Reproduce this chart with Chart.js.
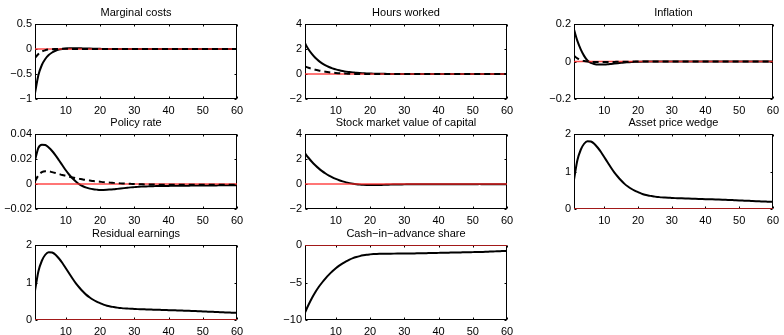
<!DOCTYPE html>
<html>
<head>
<meta charset="utf-8">
<script src="https://cdn.jsdelivr.net/npm/chart.js@4.4.1/dist/chart.umd.min.js"></script>
<style>
  html, body { margin: 0; padding: 0; background: #fff; overflow: hidden; }
  #wrap { position: relative; width: 784px; height: 335px; background: #fff; overflow: hidden; }
  #wrap canvas { position: absolute; }
</style>
</head>
<body>
<div id="wrap"></div>
<script>
// horizon (quarters) and shared x ticks
const horizon = [1, 60];
const xTicks = [10, 20, 30, 40, 50, 60];
const baseline = 0;

// Marginal costs
const mcTicks = [-1, -0.5, 0, 0.5];
const mcSolid = [-0.88, -0.52, -0.32, -0.2, -0.12, -0.07, -0.035, -0.012, 0.002, 0.01,
  0.015, 0.017, 0.017, 0.015, 0.012, 0.01, 0.008, 0.006, 0.004, 0.003,
  0.002, 0.001, 0.001, 0, 0, 0, 0, 0, 0, 0,
  0, 0, 0, 0, 0, 0, 0, 0, 0, 0,
  0, 0, 0, 0, 0, 0, 0, 0, 0, 0,
  0, 0, 0, 0, 0, 0, 0, 0, 0, 0];
const mcDashed = [-0.18, -0.1, -0.05, -0.025, -0.01, -0.003, 0, 0.003, 0.004, 0.004,
  0.003, 0.002, 0.001, 0, 0, 0, 0, 0, 0, 0,
  0, 0, 0, 0, 0, 0, 0, 0, 0, 0,
  0, 0, 0, 0, 0, 0, 0, 0, 0, 0,
  0, 0, 0, 0, 0, 0, 0, 0, 0, 0,
  0, 0, 0, 0, 0, 0, 0, 0, 0, 0];

// Hours worked
const hoursTicks = [-2, 0, 2, 4];
const hoursSolid = [2.45, 1.98, 1.61, 1.3, 1.05, 0.85, 0.69, 0.56, 0.45, 0.37,
  0.3, 0.24, 0.19, 0.16, 0.13, 0.1, 0.08, 0.065, 0.05, 0.04,
  0.03, 0.025, 0.02, 0.015, 0.01, 0.01, 0.005, 0.005, 0, 0,
  0, 0, 0, 0, 0, 0, 0, 0, 0, 0,
  0, 0, 0, 0, 0, 0, 0, 0, 0, 0,
  0, 0, 0, 0, 0, 0, 0, 0, 0, 0];
const hoursDashed = [0.6, 0.5, 0.42, 0.34, 0.28, 0.23, 0.18, 0.14, 0.11, 0.08,
  0.06, 0.04, 0.03, 0.02, 0.01, 0.005, 0, 0, 0, 0,
  0, 0, 0, 0, 0, 0, 0, 0, 0, 0,
  0, 0, 0, 0, 0, 0, 0, 0, 0, 0,
  0, 0, 0, 0, 0, 0, 0, 0, 0, 0,
  0, 0, 0, 0, 0, 0, 0, 0, 0, 0];

// Inflation
const inflTicks = [-0.2, 0, 0.2];
const inflSolid = [0.17, 0.11, 0.065, 0.03, 0.005, -0.007, -0.013, -0.016, -0.016, -0.016,
  -0.015, -0.013, -0.011, -0.009, -0.007, -0.005, -0.004, -0.003, -0.002, -0.001,
  -0.001, 0, 0, 0, 0, 0, 0, 0, 0, 0,
  0, 0, 0, 0, 0, 0, 0, 0, 0, 0,
  0, 0, 0, 0, 0, 0, 0, 0, 0, 0,
  0, 0, 0, 0, 0, 0, 0, 0, 0, 0];
const inflDashed = [0.03, 0.017, 0.008, 0.003, 0, -0.002, -0.003, -0.003, -0.003, -0.003,
  -0.002, -0.002, -0.002, -0.001, -0.001, -0.001, -0.001, 0, 0, 0,
  0, 0, 0, 0, 0, 0, 0, 0, 0, 0,
  0, 0, 0, 0, 0, 0, 0, 0, 0, 0,
  0, 0, 0, 0, 0, 0, 0, 0, 0, 0,
  0, 0, 0, 0, 0, 0, 0, 0, 0, 0];

// Policy rate
const policyTicks = [-0.02, 0, 0.02, 0.04];
const policySolid = [0.019, 0.029, 0.0315, 0.0312, 0.0292, 0.0264, 0.0229, 0.019, 0.015, 0.011,
  0.0074, 0.0044, 0.0018, -0.0003, -0.0018, -0.0029, -0.0037, -0.0042, -0.0045, -0.0047,
  -0.0047, -0.0046, -0.0044, -0.0042, -0.0039, -0.0036, -0.0033, -0.003, -0.0027, -0.0025,
  -0.0023, -0.0021, -0.002, -0.0019, -0.0018, -0.0017, -0.0016, -0.0016, -0.0015, -0.0015,
  -0.0014, -0.0014, -0.0014, -0.0013, -0.0013, -0.0013, -0.0012, -0.0012, -0.0012, -0.0012,
  -0.0011, -0.0011, -0.0011, -0.0011, -0.001, -0.001, -0.001, -0.001, -0.001, -0.001];
const policyDashed = [0.002, 0.007, 0.0095, 0.0102, 0.0101, 0.0095, 0.0088, 0.008, 0.0072, 0.0065,
  0.0058, 0.0052, 0.0046, 0.0041, 0.0036, 0.0032, 0.0028, 0.0024, 0.0021, 0.0018,
  0.0015, 0.0013, 0.0011, 0.0009, 0.0007, 0.0005, 0.0004, 0.0002, 0.0001, 0,
  -0.0001, -0.0002, -0.0003, -0.0004, -0.0004, -0.0005, -0.0005, -0.0005, -0.0006, -0.0006,
  -0.0006, -0.0006, -0.0006, -0.0006, -0.0006, -0.0006, -0.0006, -0.0006, -0.0006, -0.0006,
  -0.0006, -0.0006, -0.0006, -0.0006, -0.0006, -0.0006, -0.0006, -0.0006, -0.0006, -0.0006];

// Stock market value of capital
const stockTicks = [-2, 0, 2, 4];
const stockSolid = [2.45, 2.1, 1.78, 1.5, 1.25, 1.03, 0.84, 0.67, 0.53, 0.41,
  0.3, 0.21, 0.13, 0.07, 0.02, -0.02, -0.05, -0.07, -0.08, -0.085,
  -0.085, -0.08, -0.075, -0.07, -0.06, -0.05, -0.045, -0.04, -0.035, -0.03,
  -0.028, -0.026, -0.024, -0.022, -0.02, -0.019, -0.018, -0.017, -0.016, -0.015,
  -0.014, -0.014, -0.013, -0.013, -0.012, -0.012, -0.012, -0.011, -0.011, -0.011,
  -0.011, -0.01, -0.01, -0.01, -0.01, -0.01, -0.01, -0.01, -0.01, -0.01];

// Asset price wedge
const wedgeTicks = [0, 1, 2];
const wedgeSolid = [0.78, 1.3, 1.58, 1.74, 1.81, 1.8, 1.74, 1.64, 1.52, 1.38,
  1.24, 1.1, 0.97, 0.86, 0.76, 0.67, 0.6, 0.54, 0.49, 0.45,
  0.41, 0.38, 0.36, 0.345, 0.33, 0.32, 0.31, 0.305, 0.3, 0.295,
  0.29, 0.287, 0.284, 0.281, 0.278, 0.275, 0.272, 0.269, 0.266, 0.263,
  0.26, 0.257, 0.254, 0.251, 0.248, 0.245, 0.241, 0.237, 0.233, 0.229,
  0.225, 0.221, 0.217, 0.213, 0.209, 0.205, 0.201, 0.197, 0.193, 0.19];

// Residual earnings
const residTicks = [0, 1, 2];
const residSolid = [0.78, 1.3, 1.58, 1.74, 1.81, 1.8, 1.74, 1.64, 1.52, 1.38,
  1.24, 1.1, 0.97, 0.86, 0.76, 0.67, 0.6, 0.54, 0.49, 0.45,
  0.41, 0.38, 0.36, 0.345, 0.33, 0.32, 0.31, 0.305, 0.3, 0.295,
  0.29, 0.287, 0.284, 0.281, 0.278, 0.275, 0.272, 0.269, 0.266, 0.263,
  0.26, 0.257, 0.254, 0.251, 0.248, 0.245, 0.241, 0.237, 0.233, 0.229,
  0.225, 0.221, 0.217, 0.213, 0.209, 0.205, 0.201, 0.197, 0.193, 0.19];

// Cash-in-advance share
const cashTicks = [-10, -5, 0];
const cashSolid = [-9.0, -8.0, -7.1, -6.3, -5.6, -5.0, -4.45, -3.95, -3.5, -3.1,
  -2.75, -2.45, -2.18, -1.95, -1.75, -1.6, -1.48, -1.38, -1.3, -1.25,
  -1.21, -1.19, -1.18, -1.17, -1.16, -1.155, -1.15, -1.145, -1.14, -1.135,
  -1.13, -1.125, -1.12, -1.11, -1.1, -1.09, -1.08, -1.07, -1.06, -1.05,
  -1.04, -1.03, -1.02, -1.01, -1.0, -0.99, -0.98, -0.97, -0.96, -0.95,
  -0.94, -0.93, -0.92, -0.9, -0.88, -0.86, -0.84, -0.82, -0.8, -0.78];

// panel grid: plot-area left edges per column, top edges per row
const colLeft = [35, 305, 574];
const colWidth = [202, 202, 203];
const colRightPad = [12, 12, 7];
const rowTop = [24, 134, 245];
const plotH = 75;
const yAxisW = 35;
const titleH = 24;
const xAxisH = 20;

const panels = [
  { title: 'Marginal costs', ticks: mcTicks, solid: mcSolid, dashed: mcDashed },
  { title: 'Hours worked', ticks: hoursTicks, solid: hoursSolid, dashed: hoursDashed },
  { title: 'Inflation', ticks: inflTicks, solid: inflSolid, dashed: inflDashed },
  { title: 'Policy rate', ticks: policyTicks, solid: policySolid, dashed: policyDashed },
  { title: 'Stock market value of capital', ticks: stockTicks, solid: stockSolid },
  { title: 'Asset price wedge', ticks: wedgeTicks, solid: wedgeSolid },
  { title: 'Residual earnings', ticks: residTicks, solid: residSolid },
  { title: 'Cash\u2212in\u2212advance share', ticks: cashTicks, solid: cashSolid }
];

Chart.defaults.font.family = "'Liberation Sans', Arial, Helvetica, sans-serif";
Chart.defaults.color = '#000';
Chart.defaults.animation = false;

const fmt = v => (v < 0 ? '\u2212' : '') + Math.abs(v);
const toPoints = arr => arr.map((v, i) => ({ x: i + 1, y: v }));

// matlab-ish box with inward ticks on all four sides
const boxPlugin = {
  id: 'box',
  beforeDatasetsDraw(chart) {
    const { ctx, chartArea: a, scales } = chart;
    const L = Math.round(a.left) + 0.5, R = Math.round(a.right) - 0.5;
    const T = Math.round(a.top) + 0.5, B = Math.round(a.bottom) - 0.5;
    ctx.save();
    ctx.strokeStyle = '#000';
    ctx.lineWidth = 1;
    ctx.beginPath();
    scales.x.ticks.forEach(t => {
      const px = Math.round(scales.x.getPixelForValue(t.value)) + 0.5;
      ctx.moveTo(px, B); ctx.lineTo(px, B - 2);
      ctx.moveTo(px, T); ctx.lineTo(px, T + 2);
    });
    scales.y.ticks.forEach(t => {
      const py = Math.round(scales.y.getPixelForValue(t.value)) + 0.5;
      ctx.moveTo(L, py); ctx.lineTo(L + 2, py);
      ctx.moveTo(R, py); ctx.lineTo(R - 2, py);
    });
    ctx.stroke();
    ctx.strokeRect(L, T, R - L, B - T);
    ctx.restore();
  }
};

const wrap = document.getElementById('wrap');

panels.forEach((p, k) => {
  const col = k % 3, row = Math.floor(k / 3);
  const canvas = document.createElement('canvas');
  const w = yAxisW + colWidth[col] + colRightPad[col];
  const h = titleH + plotH + xAxisH;
  canvas.width = w;
  canvas.height = h;
  canvas.style.left = (colLeft[col] - yAxisW) + 'px';
  canvas.style.top = (rowTop[row] - titleH) + 'px';
  wrap.appendChild(canvas);

  const datasets = [];
  if (p.dashed) {
    datasets.push({
      data: toPoints(p.dashed),
      borderColor: '#000', borderWidth: 2, borderDash: [6, 4],
      pointRadius: 0, cubicInterpolationMode: 'monotone'
    });
  }
  datasets.push({
    data: horizon.map(x => ({ x: x, y: baseline })),
    borderColor: 'rgba(255, 40, 40, 0.85)', borderWidth: 1.3, pointRadius: 0
  });
  datasets.push({
    data: toPoints(p.solid),
    borderColor: '#000', borderWidth: 2,
    pointRadius: 0, cubicInterpolationMode: 'monotone'
  });

  new Chart(canvas, {
    type: 'line',
    data: { datasets: datasets },
    plugins: [boxPlugin],
    options: {
      responsive: false,
      layout: { padding: { left: 0, right: colRightPad[col], top: 0, bottom: 0 } },
      plugins: {
        legend: { display: false },
        tooltip: { enabled: false },
        title: {
          display: true,
          text: p.title,
          fullSize: false,
          color: '#000',
          font: { size: 11, weight: 'normal', lineHeight: 1.2 },
          padding: { top: 6, bottom: 4.8 }
        }
      },
      scales: {
        x: {
          type: 'linear',
          min: horizon[0],
          max: horizon[1],
          afterBuildTicks: s => { s.ticks = xTicks.map(v => ({ value: v })); },
          afterFit: s => { s.height = xAxisH; },
          grid: { display: false, drawTicks: false },
          border: { display: false },
          ticks: { font: { size: 11 }, color: '#000', padding: 5, maxRotation: 0, autoSkip: false }
        },
        y: {
          min: p.ticks[0],
          max: p.ticks[p.ticks.length - 1],
          afterBuildTicks: s => { s.ticks = p.ticks.map(v => ({ value: v })); },
          afterFit: s => { s.width = yAxisW; },
          grid: { display: false, drawTicks: false },
          border: { display: false },
          ticks: { font: { size: 11 }, color: '#000', padding: 3, autoSkip: false, callback: v => fmt(v) }
        }
      }
    }
  });
});
</script>
</body>
</html>
